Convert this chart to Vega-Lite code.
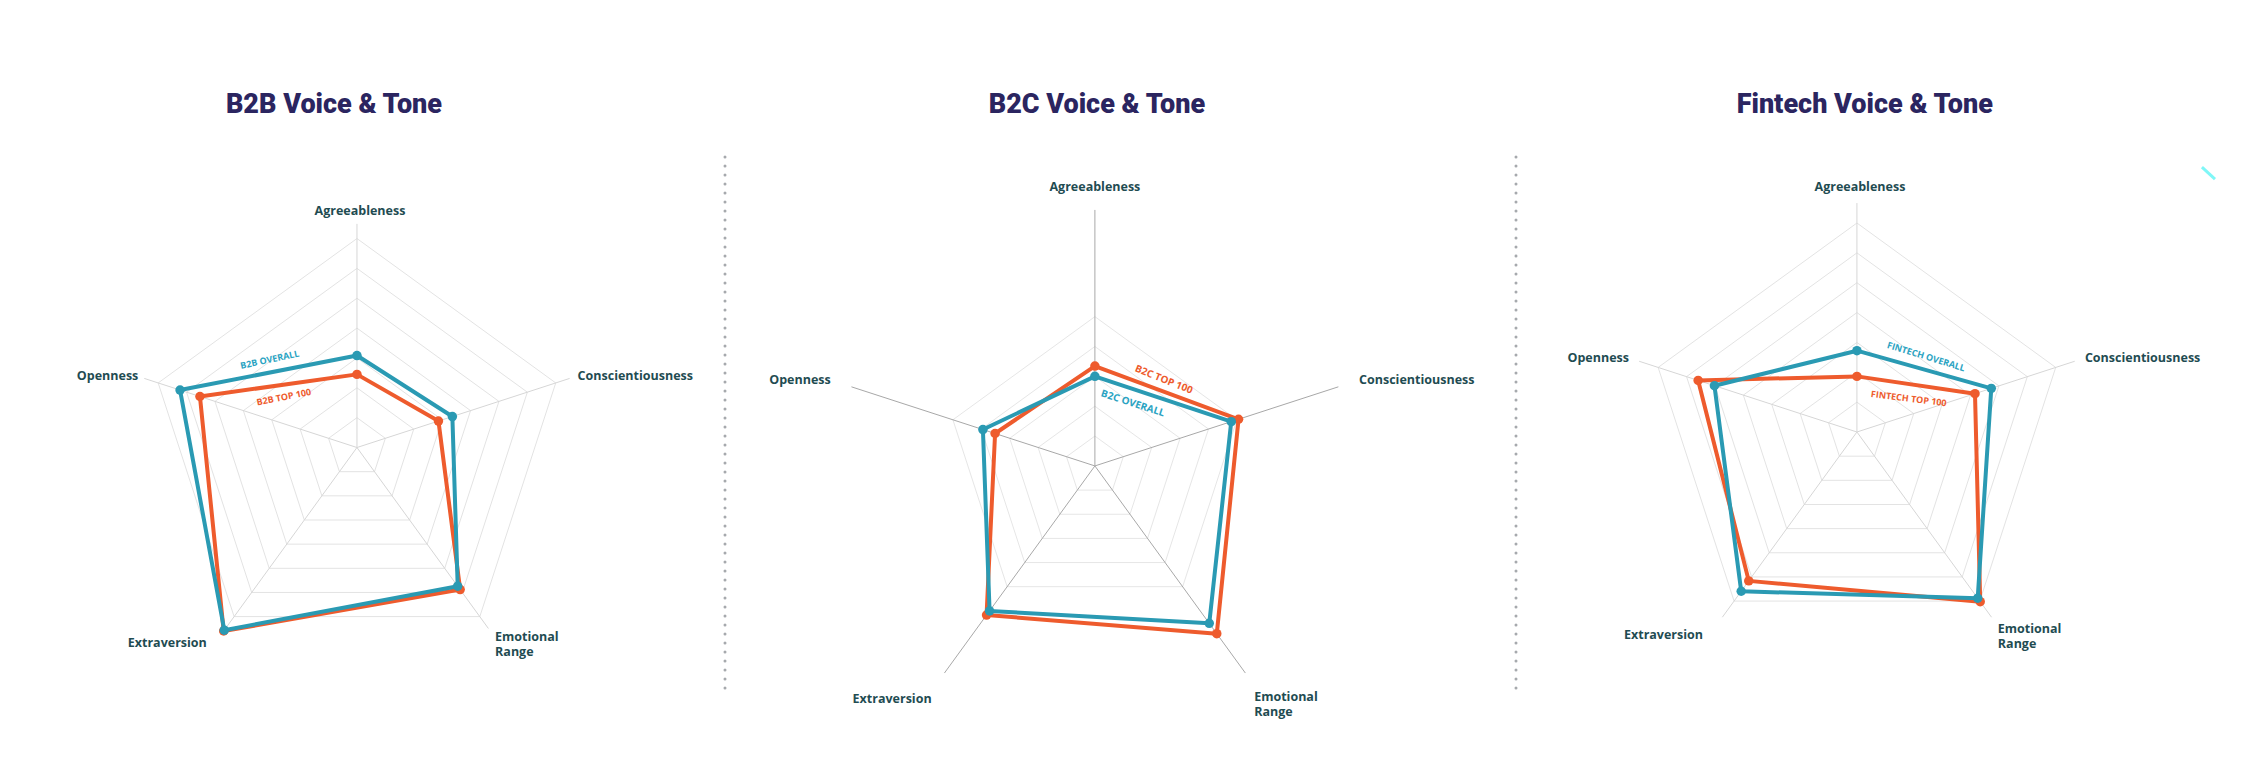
{
  "$schema": "https://vega.github.io/schema/vega-lite/v6.json",
  "padding": 0,
  "spacing": 0,
  "bounds": "flush",
  "background": "white",
  "config": {"view": {"stroke": null}},
  "datasets": {
    "vals": [
      {"panel": "B2B", "series": "Top 100", "trait": "Agreeableness", "v": 0.35},
      {"panel": "B2B", "series": "Top 100", "trait": "Conscientiousness", "v": 0.41},
      {"panel": "B2B", "series": "Top 100", "trait": "Emotional Range", "v": 0.84},
      {"panel": "B2B", "series": "Top 100", "trait": "Extraversion", "v": 1.085},
      {"panel": "B2B", "series": "Top 100", "trait": "Openness", "v": 0.79},
      {"panel": "B2B", "series": "Overall", "trait": "Agreeableness", "v": 0.44},
      {"panel": "B2B", "series": "Overall", "trait": "Conscientiousness", "v": 0.48},
      {"panel": "B2B", "series": "Overall", "trait": "Emotional Range", "v": 0.82},
      {"panel": "B2B", "series": "Overall", "trait": "Extraversion", "v": 1.08},
      {"panel": "B2B", "series": "Overall", "trait": "Openness", "v": 0.89},
      {"panel": "B2C", "series": "Top 100", "trait": "Agreeableness", "v": 0.39},
      {"panel": "B2C", "series": "Top 100", "trait": "Conscientiousness", "v": 0.59},
      {"panel": "B2C", "series": "Top 100", "trait": "Emotional Range", "v": 0.81},
      {"panel": "B2C", "series": "Top 100", "trait": "Extraversion", "v": 0.72},
      {"panel": "B2C", "series": "Top 100", "trait": "Openness", "v": 0.41},
      {"panel": "B2C", "series": "Overall", "trait": "Agreeableness", "v": 0.35},
      {"panel": "B2C", "series": "Overall", "trait": "Conscientiousness", "v": 0.56},
      {"panel": "B2C", "series": "Overall", "trait": "Emotional Range", "v": 0.76},
      {"panel": "B2C", "series": "Overall", "trait": "Extraversion", "v": 0.70},
      {"panel": "B2C", "series": "Overall", "trait": "Openness", "v": 0.46},
      {"panel": "Fintech", "series": "Top 100", "trait": "Agreeableness", "v": 0.26},
      {"panel": "Fintech", "series": "Top 100", "trait": "Conscientiousness", "v": 0.58},
      {"panel": "Fintech", "series": "Top 100", "trait": "Emotional Range", "v": 0.98},
      {"panel": "Fintech", "series": "Top 100", "trait": "Extraversion", "v": 0.86},
      {"panel": "Fintech", "series": "Top 100", "trait": "Openness", "v": 0.78},
      {"panel": "Fintech", "series": "Overall", "trait": "Agreeableness", "v": 0.38},
      {"panel": "Fintech", "series": "Overall", "trait": "Conscientiousness", "v": 0.66},
      {"panel": "Fintech", "series": "Overall", "trait": "Emotional Range", "v": 0.96},
      {"panel": "Fintech", "series": "Overall", "trait": "Extraversion", "v": 0.92},
      {"panel": "Fintech", "series": "Overall", "trait": "Openness", "v": 0.70}
    ],
    "traits": [
      {"trait": "Agreeableness"},
      {"trait": "Conscientiousness"},
      {"trait": "Emotional Range"},
      {"trait": "Extraversion"},
      {"trait": "Openness"}
    ],
    "rings": [
      {"panel": "B2B", "level": 1}, {"panel": "B2B", "level": 2}, {"panel": "B2B", "level": 3},
      {"panel": "B2B", "level": 4}, {"panel": "B2B", "level": 5}, {"panel": "B2B", "level": 6},
      {"panel": "B2B", "level": 7},
      {"panel": "B2C", "level": 1}, {"panel": "B2C", "level": 2}, {"panel": "B2C", "level": 3},
      {"panel": "B2C", "level": 4}, {"panel": "B2C", "level": 5},
      {"panel": "Fintech", "level": 1}, {"panel": "Fintech", "level": 2}, {"panel": "Fintech", "level": 3},
      {"panel": "Fintech", "level": 4}, {"panel": "Fintech", "level": 5}, {"panel": "Fintech", "level": 6},
      {"panel": "Fintech", "level": 7}
    ],
    "titles": [
      {"panel": "B2B", "title": "B2B Voice & Tone"},
      {"panel": "B2C", "title": "B2C Voice & Tone"},
      {"panel": "Fintech", "title": "Fintech Voice & Tone"}
    ],
    "tags": [
      {"panel": "B2B", "series": "Overall", "tag": "B2B OVERALL"},
      {"panel": "B2B", "series": "Top 100", "tag": "B2B TOP 100"},
      {"panel": "B2C", "series": "Overall", "tag": "B2C OVERALL"},
      {"panel": "B2C", "series": "Top 100", "tag": "B2C TOP 100"},
      {"panel": "Fintech", "series": "Overall", "tag": "FINTECH OVERALL"},
      {"panel": "Fintech", "series": "Top 100", "tag": "FINTECH TOP 100"}
    ]
  },
  "hconcat": [
    {
      "width": 725,
      "height": 778,
      "layer": [
        {
          "data": {"name": "rings"},
          "transform": [{"filter": "datum.panel === 'B2B'"}],
          "mark": {"type": "point", "shape": "M0,-1L0.9511,-0.309L0.5878,0.809L-0.5878,0.809L-0.9511,-0.309Z", "filled": false, "stroke": "#e3e3e3", "strokeWidth": 1, "opacity": 1},
          "encoding": {
            "x": {"datum": 0, "type": "quantitative", "scale": {"domain": [-1.708, 1.761], "nice": false, "zero": false}, "axis": null},
            "y": {"datum": 0, "type": "quantitative", "scale": {"domain": [-1.581, 2.141], "nice": false, "zero": false}, "axis": null},
            "size": {"field": "level", "type": "quantitative", "scale": {"type": "pow", "exponent": 2, "domain": [0, 7], "range": [0, 174724]}, "legend": null}
          }
        },
        {
          "data": {"name": "traits"},
          "transform": [
            {"calculate": "indexof(['Agreeableness','Conscientiousness','Emotional Range','Extraversion','Openness'], datum.trait)", "as": "i"},
            {"calculate": "PI/2 - datum.i*2*PI/5", "as": "t"},
            {"calculate": "1.07*cos(datum.t)", "as": "sx"},
            {"calculate": "1.07*sin(datum.t)", "as": "sy"}
          ],
          "mark": {"type": "rule", "stroke": "#d6d6d6", "strokeWidth": 1},
          "encoding": {
            "x": {"field": "sx", "type": "quantitative"},
            "y": {"field": "sy", "type": "quantitative"},
            "x2": {"datum": 0},
            "y2": {"datum": 0}
          }
        },
        {
          "data": {"name": "vals"},
          "transform": [
            {"filter": "datum.panel === 'B2B' && datum.series === 'Top 100'"},
            {"calculate": "indexof(['Agreeableness','Conscientiousness','Emotional Range','Extraversion','Openness'], datum.trait)", "as": "i"},
            {"calculate": "PI/2 - datum.i*2*PI/5", "as": "t"},
            {"calculate": "datum.v*cos(datum.t)", "as": "x"},
            {"calculate": "datum.v*sin(datum.t)", "as": "y"}
          ],
          "mark": {"type": "line", "interpolate": "linear-closed", "stroke": "#ee5b2d", "strokeWidth": 4, "strokeJoin": "round"},
          "encoding": {
            "x": {"field": "x", "type": "quantitative"},
            "y": {"field": "y", "type": "quantitative"},
            "order": {"field": "i", "type": "quantitative"}
          }
        },
        {
          "data": {"name": "vals"},
          "transform": [
            {"filter": "datum.panel === 'B2B' && datum.series === 'Overall'"},
            {"calculate": "indexof(['Agreeableness','Conscientiousness','Emotional Range','Extraversion','Openness'], datum.trait)", "as": "i"},
            {"calculate": "PI/2 - datum.i*2*PI/5", "as": "t"},
            {"calculate": "datum.v*cos(datum.t)", "as": "x"},
            {"calculate": "datum.v*sin(datum.t)", "as": "y"}
          ],
          "mark": {"type": "line", "interpolate": "linear-closed", "stroke": "#2a9ab3", "strokeWidth": 4, "strokeJoin": "round"},
          "encoding": {
            "x": {"field": "x", "type": "quantitative"},
            "y": {"field": "y", "type": "quantitative"},
            "order": {"field": "i", "type": "quantitative"}
          }
        },
        {
          "data": {"name": "vals"},
          "transform": [
            {"filter": "datum.panel === 'B2B'"},
            {"calculate": "indexof(['Agreeableness','Conscientiousness','Emotional Range','Extraversion','Openness'], datum.trait)", "as": "i"},
            {"calculate": "PI/2 - datum.i*2*PI/5", "as": "t"},
            {"calculate": "datum.v*cos(datum.t)", "as": "x"},
            {"calculate": "datum.v*sin(datum.t)", "as": "y"}
          ],
          "mark": {"type": "circle", "size": 90, "opacity": 1},
          "encoding": {
            "x": {"field": "x", "type": "quantitative"},
            "y": {"field": "y", "type": "quantitative"},
            "color": {"field": "series", "type": "nominal", "scale": {"domain": ["Top 100", "Overall"], "range": ["#ee5b2d", "#2a9ab3"]}, "legend": null}
          }
        },
        {
          "data": {"name": "tags"},
          "transform": [{"filter": "datum.panel === 'B2B' && datum.series === 'Overall'"}],
          "mark": {"type": "text", "font": "Open Sans", "fontWeight": 700, "fontSize": 9, "color": "#2aa3c2", "angle": -12, "align": "center", "baseline": "middle"},
          "encoding": {"x": {"datum": -0.417, "type": "quantitative"}, "y": {"datum": 0.42, "type": "quantitative"}, "text": {"field": "tag", "type": "nominal"}}
        },
        {
          "data": {"name": "tags"},
          "transform": [{"filter": "datum.panel === 'B2B' && datum.series === 'Top 100'"}],
          "mark": {"type": "text", "font": "Open Sans", "fontWeight": 700, "fontSize": 9, "color": "#ee5b2d", "angle": -11, "align": "center", "baseline": "middle"},
          "encoding": {"x": {"datum": -0.35, "type": "quantitative"}, "y": {"datum": 0.241, "type": "quantitative"}, "text": {"field": "tag", "type": "nominal"}}
        },
        {
          "data": {"name": "traits"},
          "transform": [
            {"calculate": "indexof(['Agreeableness','Conscientiousness','Emotional Range','Extraversion','Openness'], datum.trait)", "as": "i"},
            {"calculate": "PI/2 - datum.i*2*PI/5", "as": "t"},
            {"calculate": "1.10*cos(datum.t)", "as": "lx"},
            {"calculate": "1.10*sin(datum.t)", "as": "ly"},
            {"filter": "datum.trait === 'Agreeableness'"}
          ],
          "mark": {"type": "text", "font": "Open Sans", "fontWeight": 700, "fontSize": 12.5, "color": "#1f4c52", "align": "center", "baseline": "bottom", "dx": 3},
          "encoding": {"x": {"field": "lx", "type": "quantitative"}, "y": {"field": "ly", "type": "quantitative"}, "text": {"field": "trait", "type": "nominal"}}
        },
        {
          "data": {"name": "traits"},
          "transform": [
            {"calculate": "indexof(['Agreeableness','Conscientiousness','Emotional Range','Extraversion','Openness'], datum.trait)", "as": "i"},
            {"calculate": "PI/2 - datum.i*2*PI/5", "as": "t"},
            {"calculate": "1.10*cos(datum.t)", "as": "lx"},
            {"calculate": "1.10*sin(datum.t)", "as": "ly"},
            {"filter": "datum.trait === 'Conscientiousness'"}
          ],
          "mark": {"type": "text", "font": "Open Sans", "fontWeight": 700, "fontSize": 12.5, "color": "#1f4c52", "align": "left", "baseline": "middle", "dx": 2},
          "encoding": {"x": {"field": "lx", "type": "quantitative"}, "y": {"field": "ly", "type": "quantitative"}, "text": {"field": "trait", "type": "nominal"}}
        },
        {
          "data": {"name": "traits"},
          "transform": [
            {"calculate": "indexof(['Agreeableness','Conscientiousness','Emotional Range','Extraversion','Openness'], datum.trait)", "as": "i"},
            {"calculate": "PI/2 - datum.i*2*PI/5", "as": "t"},
            {"calculate": "1.10*cos(datum.t)", "as": "lx"},
            {"calculate": "1.10*sin(datum.t)", "as": "ly"},
            {"filter": "datum.trait === 'Openness'"}
          ],
          "mark": {"type": "text", "font": "Open Sans", "fontWeight": 700, "fontSize": 12.5, "color": "#1f4c52", "align": "right", "baseline": "middle"},
          "encoding": {"x": {"field": "lx", "type": "quantitative"}, "y": {"field": "ly", "type": "quantitative"}, "text": {"field": "trait", "type": "nominal"}}
        },
        {
          "data": {"name": "traits"},
          "transform": [
            {"calculate": "indexof(['Agreeableness','Conscientiousness','Emotional Range','Extraversion','Openness'], datum.trait)", "as": "i"},
            {"calculate": "PI/2 - datum.i*2*PI/5", "as": "t"},
            {"calculate": "1.10*cos(datum.t)", "as": "lx"},
            {"calculate": "1.10*sin(datum.t)", "as": "ly"},
            {"filter": "datum.trait === 'Extraversion'"}
          ],
          "mark": {"type": "text", "font": "Open Sans", "fontWeight": 700, "fontSize": 12.5, "color": "#1f4c52", "align": "right", "baseline": "top", "dx": -15, "dy": 3},
          "encoding": {"x": {"field": "lx", "type": "quantitative"}, "y": {"field": "ly", "type": "quantitative"}, "text": {"field": "trait", "type": "nominal"}}
        },
        {
          "data": {"name": "traits"},
          "transform": [
            {"calculate": "indexof(['Agreeableness','Conscientiousness','Emotional Range','Extraversion','Openness'], datum.trait)", "as": "i"},
            {"calculate": "PI/2 - datum.i*2*PI/5", "as": "t"},
            {"calculate": "1.10*cos(datum.t)", "as": "lx"},
            {"calculate": "1.10*sin(datum.t)", "as": "ly"},
            {"filter": "datum.trait === 'Emotional Range'"}
          ],
          "mark": {"type": "text", "font": "Open Sans", "fontWeight": 700, "fontSize": 12.5, "color": "#1f4c52", "align": "left", "baseline": "top", "dx": 3, "dy": -3, "lineBreak": " ", "lineHeight": 15},
          "encoding": {"x": {"field": "lx", "type": "quantitative"}, "y": {"field": "ly", "type": "quantitative"}, "text": {"field": "trait", "type": "nominal"}}
        },
        {
          "data": {"name": "titles"},
          "transform": [{"filter": "datum.panel === 'B2B'"}],
          "mark": {"type": "text", "font": "Roboto", "fontWeight": 900, "fontSize": 27, "color": "#2b2560", "align": "center", "baseline": "middle"},
          "encoding": {"x": {"datum": -0.11, "type": "quantitative"}, "y": {"datum": 1.639, "type": "quantitative"}, "text": {"field": "title", "type": "nominal"}}
        }
      ]
    },
    {
      "width": 791,
      "height": 778,
      "layer": [
        {
          "data": {"name": "rings"},
          "transform": [{"filter": "datum.panel === 'B2C'"}],
          "mark": {"type": "point", "shape": "M0,-1L0.9511,-0.309L0.5878,0.809L-0.5878,0.809L-0.9511,-0.309Z", "filled": false, "stroke": "#e6e6e6", "strokeWidth": 1, "opacity": 1},
          "encoding": {
            "x": {"datum": 0, "type": "quantitative", "scale": {"domain": [-1.445, 1.645], "nice": false, "zero": false}, "axis": null},
            "y": {"datum": 0, "type": "quantitative", "scale": {"domain": [-1.219, 1.820], "nice": false, "zero": false}, "axis": null},
            "size": {"field": "level", "type": "quantitative", "scale": {"type": "pow", "exponent": 2, "domain": [0, 5], "range": [0, 262144]}, "legend": null}
          }
        },
        {
          "data": {"name": "traits"},
          "transform": [
            {"calculate": "indexof(['Agreeableness','Conscientiousness','Emotional Range','Extraversion','Openness'], datum.trait)", "as": "i"},
            {"calculate": "PI/2 - datum.i*2*PI/5", "as": "t"},
            {"calculate": "1.0*cos(datum.t)", "as": "sx"},
            {"calculate": "1.0*sin(datum.t)", "as": "sy"}
          ],
          "mark": {"type": "rule", "stroke": "#a8a8a8", "strokeWidth": 1},
          "encoding": {
            "x": {"field": "sx", "type": "quantitative"},
            "y": {"field": "sy", "type": "quantitative"},
            "x2": {"datum": 0},
            "y2": {"datum": 0}
          }
        },
        {
          "data": {"name": "titles"},
          "transform": [{"filter": "datum.panel === 'B2C'"}],
          "mark": {"type": "rule", "stroke": "#a6a9ad", "strokeWidth": 3, "strokeDash": [0, 9], "strokeCap": "round"},
          "encoding": {"x": {"datum": -1.445, "type": "quantitative"}, "y": {"datum": 1.207, "type": "quantitative"}, "y2": {"datum": -0.902}}
        },
        {
          "data": {"name": "vals"},
          "transform": [
            {"filter": "datum.panel === 'B2C' && datum.series === 'Top 100'"},
            {"calculate": "indexof(['Agreeableness','Conscientiousness','Emotional Range','Extraversion','Openness'], datum.trait)", "as": "i"},
            {"calculate": "PI/2 - datum.i*2*PI/5", "as": "t"},
            {"calculate": "datum.v*cos(datum.t)", "as": "x"},
            {"calculate": "datum.v*sin(datum.t)", "as": "y"}
          ],
          "mark": {"type": "line", "interpolate": "linear-closed", "stroke": "#ee5b2d", "strokeWidth": 4, "strokeJoin": "round"},
          "encoding": {
            "x": {"field": "x", "type": "quantitative"},
            "y": {"field": "y", "type": "quantitative"},
            "order": {"field": "i", "type": "quantitative"}
          }
        },
        {
          "data": {"name": "vals"},
          "transform": [
            {"filter": "datum.panel === 'B2C' && datum.series === 'Overall'"},
            {"calculate": "indexof(['Agreeableness','Conscientiousness','Emotional Range','Extraversion','Openness'], datum.trait)", "as": "i"},
            {"calculate": "PI/2 - datum.i*2*PI/5", "as": "t"},
            {"calculate": "datum.v*cos(datum.t)", "as": "x"},
            {"calculate": "datum.v*sin(datum.t)", "as": "y"}
          ],
          "mark": {"type": "line", "interpolate": "linear-closed", "stroke": "#2a9ab3", "strokeWidth": 4, "strokeJoin": "round"},
          "encoding": {
            "x": {"field": "x", "type": "quantitative"},
            "y": {"field": "y", "type": "quantitative"},
            "order": {"field": "i", "type": "quantitative"}
          }
        },
        {
          "data": {"name": "vals"},
          "transform": [
            {"filter": "datum.panel === 'B2C'"},
            {"calculate": "indexof(['Agreeableness','Conscientiousness','Emotional Range','Extraversion','Openness'], datum.trait)", "as": "i"},
            {"calculate": "PI/2 - datum.i*2*PI/5", "as": "t"},
            {"calculate": "datum.v*cos(datum.t)", "as": "x"},
            {"calculate": "datum.v*sin(datum.t)", "as": "y"}
          ],
          "mark": {"type": "circle", "size": 90, "opacity": 1},
          "encoding": {
            "x": {"field": "x", "type": "quantitative"},
            "y": {"field": "y", "type": "quantitative"},
            "color": {"field": "series", "type": "nominal", "scale": {"domain": ["Top 100", "Overall"], "range": ["#ee5b2d", "#2a9ab3"]}, "legend": null}
          }
        },
        {
          "data": {"name": "tags"},
          "transform": [{"filter": "datum.panel === 'B2C' && datum.series === 'Overall'"}],
          "mark": {"type": "text", "font": "Open Sans", "fontWeight": 700, "fontSize": 10, "color": "#2aa3c2", "angle": 18, "align": "center", "baseline": "middle"},
          "encoding": {"x": {"datum": 0.148, "type": "quantitative"}, "y": {"datum": 0.244, "type": "quantitative"}, "text": {"field": "tag", "type": "nominal"}}
        },
        {
          "data": {"name": "tags"},
          "transform": [{"filter": "datum.panel === 'B2C' && datum.series === 'Top 100'"}],
          "mark": {"type": "text", "font": "Open Sans", "fontWeight": 700, "fontSize": 10, "color": "#ee5b2d", "angle": 22, "align": "center", "baseline": "middle"},
          "encoding": {"x": {"datum": 0.269, "type": "quantitative"}, "y": {"datum": 0.337, "type": "quantitative"}, "text": {"field": "tag", "type": "nominal"}}
        },
        {
          "data": {"name": "traits"},
          "transform": [
            {"calculate": "indexof(['Agreeableness','Conscientiousness','Emotional Range','Extraversion','Openness'], datum.trait)", "as": "i"},
            {"calculate": "PI/2 - datum.i*2*PI/5", "as": "t"},
            {"calculate": "1.085*cos(datum.t)", "as": "lx"},
            {"calculate": "1.085*sin(datum.t)", "as": "ly"},
            {"filter": "datum.trait === 'Agreeableness'"}
          ],
          "mark": {"type": "text", "font": "Open Sans", "fontWeight": 700, "fontSize": 12.5, "color": "#1f4c52", "align": "center", "baseline": "bottom", "dy": 6},
          "encoding": {"x": {"field": "lx", "type": "quantitative"}, "y": {"field": "ly", "type": "quantitative"}, "text": {"field": "trait", "type": "nominal"}}
        },
        {
          "data": {"name": "traits"},
          "transform": [
            {"calculate": "indexof(['Agreeableness','Conscientiousness','Emotional Range','Extraversion','Openness'], datum.trait)", "as": "i"},
            {"calculate": "PI/2 - datum.i*2*PI/5", "as": "t"},
            {"calculate": "1.085*cos(datum.t)", "as": "lx"},
            {"calculate": "1.085*sin(datum.t)", "as": "ly"},
            {"filter": "datum.trait === 'Conscientiousness'"}
          ],
          "mark": {"type": "text", "font": "Open Sans", "fontWeight": 700, "fontSize": 12.5, "color": "#1f4c52", "align": "left", "baseline": "middle"},
          "encoding": {"x": {"field": "lx", "type": "quantitative"}, "y": {"field": "ly", "type": "quantitative"}, "text": {"field": "trait", "type": "nominal"}}
        },
        {
          "data": {"name": "traits"},
          "transform": [
            {"calculate": "indexof(['Agreeableness','Conscientiousness','Emotional Range','Extraversion','Openness'], datum.trait)", "as": "i"},
            {"calculate": "PI/2 - datum.i*2*PI/5", "as": "t"},
            {"calculate": "1.085*cos(datum.t)", "as": "lx"},
            {"calculate": "1.085*sin(datum.t)", "as": "ly"},
            {"filter": "datum.trait === 'Openness'"}
          ],
          "mark": {"type": "text", "font": "Open Sans", "fontWeight": 700, "fontSize": 12.5, "color": "#1f4c52", "align": "right", "baseline": "middle"},
          "encoding": {"x": {"field": "lx", "type": "quantitative"}, "y": {"field": "ly", "type": "quantitative"}, "text": {"field": "trait", "type": "nominal"}}
        },
        {
          "data": {"name": "traits"},
          "transform": [
            {"calculate": "indexof(['Agreeableness','Conscientiousness','Emotional Range','Extraversion','Openness'], datum.trait)", "as": "i"},
            {"calculate": "PI/2 - datum.i*2*PI/5", "as": "t"},
            {"calculate": "1.085*cos(datum.t)", "as": "lx"},
            {"calculate": "1.085*sin(datum.t)", "as": "ly"},
            {"filter": "datum.trait === 'Extraversion'"}
          ],
          "mark": {"type": "text", "font": "Open Sans", "fontWeight": 700, "fontSize": 12.5, "color": "#1f4c52", "align": "right", "baseline": "top", "dx": 0, "dy": 2},
          "encoding": {"x": {"field": "lx", "type": "quantitative"}, "y": {"field": "ly", "type": "quantitative"}, "text": {"field": "trait", "type": "nominal"}}
        },
        {
          "data": {"name": "traits"},
          "transform": [
            {"calculate": "indexof(['Agreeableness','Conscientiousness','Emotional Range','Extraversion','Openness'], datum.trait)", "as": "i"},
            {"calculate": "PI/2 - datum.i*2*PI/5", "as": "t"},
            {"calculate": "1.085*cos(datum.t)", "as": "lx"},
            {"calculate": "1.085*sin(datum.t)", "as": "ly"},
            {"filter": "datum.trait === 'Emotional Range'"}
          ],
          "mark": {"type": "text", "font": "Open Sans", "fontWeight": 700, "fontSize": 12.5, "color": "#1f4c52", "align": "left", "baseline": "top", "dx": -4, "dy": 0, "lineBreak": " ", "lineHeight": 15},
          "encoding": {"x": {"field": "lx", "type": "quantitative"}, "y": {"field": "ly", "type": "quantitative"}, "text": {"field": "trait", "type": "nominal"}}
        },
        {
          "data": {"name": "titles"},
          "transform": [{"filter": "datum.panel === 'B2C'"}],
          "mark": {"type": "text", "font": "Roboto", "fontWeight": 900, "fontSize": 27, "color": "#2b2560", "align": "center", "baseline": "middle"},
          "encoding": {"x": {"datum": 0.008, "type": "quantitative"}, "y": {"datum": 1.41, "type": "quantitative"}, "text": {"field": "title", "type": "nominal"}}
        }
      ]
    },
    {
      "width": 748,
      "height": 778,
      "layer": [
        {
          "data": {"name": "rings"},
          "transform": [{"filter": "datum.panel === 'Fintech'"}],
          "mark": {"type": "point", "shape": "M0,-1L0.9511,-0.309L0.5878,0.809L-0.5878,0.809L-0.9511,-0.309Z", "filled": false, "stroke": "#e3e3e3", "strokeWidth": 1, "opacity": 1},
          "encoding": {
            "x": {"datum": 0, "type": "quantitative", "scale": {"domain": [-1.593, 1.902], "nice": false, "zero": false}, "axis": null},
            "y": {"datum": 0, "type": "quantitative", "scale": {"domain": [-1.617, 2.019], "nice": false, "zero": false}, "axis": null},
            "size": {"field": "level", "type": "quantitative", "scale": {"type": "pow", "exponent": 2, "domain": [0, 7], "range": [0, 183184]}, "legend": null}
          }
        },
        {
          "data": {"name": "traits"},
          "transform": [
            {"calculate": "indexof(['Agreeableness','Conscientiousness','Emotional Range','Extraversion','Openness'], datum.trait)", "as": "i"},
            {"calculate": "PI/2 - datum.i*2*PI/5", "as": "t"},
            {"calculate": "1.07*cos(datum.t)", "as": "sx"},
            {"calculate": "1.07*sin(datum.t)", "as": "sy"}
          ],
          "mark": {"type": "rule", "stroke": "#d6d6d6", "strokeWidth": 1},
          "encoding": {
            "x": {"field": "sx", "type": "quantitative"},
            "y": {"field": "sy", "type": "quantitative"},
            "x2": {"datum": 0},
            "y2": {"datum": 0}
          }
        },
        {
          "data": {"name": "titles"},
          "transform": [{"filter": "datum.panel === 'Fintech'"}],
          "mark": {"type": "rule", "stroke": "#a6a9ad", "strokeWidth": 3, "strokeDash": [0, 9], "strokeCap": "round"},
          "encoding": {"x": {"datum": -1.593, "type": "quantitative"}, "y": {"datum": 1.285, "type": "quantitative"}, "y2": {"datum": -1.238}}
        },
        {
          "data": {"name": "titles"},
          "transform": [{"filter": "datum.panel === 'Fintech'"}],
          "mark": {"type": "rule", "stroke": "#7ff7f7", "strokeWidth": 3},
          "encoding": {"x": {"datum": 1.612, "type": "quantitative"}, "y": {"datum": 1.238, "type": "quantitative"}, "x2": {"datum": 1.673}, "y2": {"datum": 1.182}}
        },
        {
          "data": {"name": "vals"},
          "transform": [
            {"filter": "datum.panel === 'Fintech' && datum.series === 'Top 100'"},
            {"calculate": "indexof(['Agreeableness','Conscientiousness','Emotional Range','Extraversion','Openness'], datum.trait)", "as": "i"},
            {"calculate": "PI/2 - datum.i*2*PI/5", "as": "t"},
            {"calculate": "datum.v*cos(datum.t)", "as": "x"},
            {"calculate": "datum.v*sin(datum.t)", "as": "y"}
          ],
          "mark": {"type": "line", "interpolate": "linear-closed", "stroke": "#ee5b2d", "strokeWidth": 4, "strokeJoin": "round"},
          "encoding": {
            "x": {"field": "x", "type": "quantitative"},
            "y": {"field": "y", "type": "quantitative"},
            "order": {"field": "i", "type": "quantitative"}
          }
        },
        {
          "data": {"name": "vals"},
          "transform": [
            {"filter": "datum.panel === 'Fintech' && datum.series === 'Overall'"},
            {"calculate": "indexof(['Agreeableness','Conscientiousness','Emotional Range','Extraversion','Openness'], datum.trait)", "as": "i"},
            {"calculate": "PI/2 - datum.i*2*PI/5", "as": "t"},
            {"calculate": "datum.v*cos(datum.t)", "as": "x"},
            {"calculate": "datum.v*sin(datum.t)", "as": "y"}
          ],
          "mark": {"type": "line", "interpolate": "linear-closed", "stroke": "#2a9ab3", "strokeWidth": 4, "strokeJoin": "round"},
          "encoding": {
            "x": {"field": "x", "type": "quantitative"},
            "y": {"field": "y", "type": "quantitative"},
            "order": {"field": "i", "type": "quantitative"}
          }
        },
        {
          "data": {"name": "vals"},
          "transform": [
            {"filter": "datum.panel === 'Fintech'"},
            {"calculate": "indexof(['Agreeableness','Conscientiousness','Emotional Range','Extraversion','Openness'], datum.trait)", "as": "i"},
            {"calculate": "PI/2 - datum.i*2*PI/5", "as": "t"},
            {"calculate": "datum.v*cos(datum.t)", "as": "x"},
            {"calculate": "datum.v*sin(datum.t)", "as": "y"}
          ],
          "mark": {"type": "circle", "size": 90, "opacity": 1},
          "encoding": {
            "x": {"field": "x", "type": "quantitative"},
            "y": {"field": "y", "type": "quantitative"},
            "color": {"field": "series", "type": "nominal", "scale": {"domain": ["Top 100", "Overall"], "range": ["#ee5b2d", "#2a9ab3"]}, "legend": null}
          }
        },
        {
          "data": {"name": "tags"},
          "transform": [{"filter": "datum.panel === 'Fintech' && datum.series === 'Overall'"}],
          "mark": {"type": "text", "font": "Open Sans", "fontWeight": 700, "fontSize": 9, "color": "#2aa3c2", "angle": 17, "align": "center", "baseline": "middle"},
          "encoding": {"x": {"datum": 0.323, "type": "quantitative"}, "y": {"datum": 0.352, "type": "quantitative"}, "text": {"field": "tag", "type": "nominal"}}
        },
        {
          "data": {"name": "tags"},
          "transform": [{"filter": "datum.panel === 'Fintech' && datum.series === 'Top 100'"}],
          "mark": {"type": "text", "font": "Open Sans", "fontWeight": 700, "fontSize": 9, "color": "#ee5b2d", "angle": 7, "align": "center", "baseline": "middle"},
          "encoding": {"x": {"datum": 0.242, "type": "quantitative"}, "y": {"datum": 0.156, "type": "quantitative"}, "text": {"field": "tag", "type": "nominal"}}
        },
        {
          "data": {"name": "traits"},
          "transform": [
            {"calculate": "indexof(['Agreeableness','Conscientiousness','Emotional Range','Extraversion','Openness'], datum.trait)", "as": "i"},
            {"calculate": "PI/2 - datum.i*2*PI/5", "as": "t"},
            {"calculate": "1.12*cos(datum.t)", "as": "lx"},
            {"calculate": "1.12*sin(datum.t)", "as": "ly"},
            {"filter": "datum.trait === 'Agreeableness'"}
          ],
          "mark": {"type": "text", "font": "Open Sans", "fontWeight": 700, "fontSize": 12.5, "color": "#1f4c52", "align": "center", "baseline": "bottom", "dx": 3, "dy": 2},
          "encoding": {"x": {"field": "lx", "type": "quantitative"}, "y": {"field": "ly", "type": "quantitative"}, "text": {"field": "trait", "type": "nominal"}}
        },
        {
          "data": {"name": "traits"},
          "transform": [
            {"calculate": "indexof(['Agreeableness','Conscientiousness','Emotional Range','Extraversion','Openness'], datum.trait)", "as": "i"},
            {"calculate": "PI/2 - datum.i*2*PI/5", "as": "t"},
            {"calculate": "1.12*cos(datum.t)", "as": "lx"},
            {"calculate": "1.12*sin(datum.t)", "as": "ly"},
            {"filter": "datum.trait === 'Conscientiousness'"}
          ],
          "mark": {"type": "text", "font": "Open Sans", "fontWeight": 700, "fontSize": 12.5, "color": "#1f4c52", "align": "left", "baseline": "middle"},
          "encoding": {"x": {"field": "lx", "type": "quantitative"}, "y": {"field": "ly", "type": "quantitative"}, "text": {"field": "trait", "type": "nominal"}}
        },
        {
          "data": {"name": "traits"},
          "transform": [
            {"calculate": "indexof(['Agreeableness','Conscientiousness','Emotional Range','Extraversion','Openness'], datum.trait)", "as": "i"},
            {"calculate": "PI/2 - datum.i*2*PI/5", "as": "t"},
            {"calculate": "1.12*cos(datum.t)", "as": "lx"},
            {"calculate": "1.12*sin(datum.t)", "as": "ly"},
            {"filter": "datum.trait === 'Openness'"}
          ],
          "mark": {"type": "text", "font": "Open Sans", "fontWeight": 700, "fontSize": 12.5, "color": "#1f4c52", "align": "right", "baseline": "middle"},
          "encoding": {"x": {"field": "lx", "type": "quantitative"}, "y": {"field": "ly", "type": "quantitative"}, "text": {"field": "trait", "type": "nominal"}}
        },
        {
          "data": {"name": "traits"},
          "transform": [
            {"calculate": "indexof(['Agreeableness','Conscientiousness','Emotional Range','Extraversion','Openness'], datum.trait)", "as": "i"},
            {"calculate": "PI/2 - datum.i*2*PI/5", "as": "t"},
            {"calculate": "1.12*cos(datum.t)", "as": "lx"},
            {"calculate": "1.12*sin(datum.t)", "as": "ly"},
            {"filter": "datum.trait === 'Extraversion'"}
          ],
          "mark": {"type": "text", "font": "Open Sans", "fontWeight": 700, "fontSize": 12.5, "color": "#1f4c52", "align": "right", "baseline": "top", "dx": -13, "dy": 3},
          "encoding": {"x": {"field": "lx", "type": "quantitative"}, "y": {"field": "ly", "type": "quantitative"}, "text": {"field": "trait", "type": "nominal"}}
        },
        {
          "data": {"name": "traits"},
          "transform": [
            {"calculate": "indexof(['Agreeableness','Conscientiousness','Emotional Range','Extraversion','Openness'], datum.trait)", "as": "i"},
            {"calculate": "PI/2 - datum.i*2*PI/5", "as": "t"},
            {"calculate": "1.12*cos(datum.t)", "as": "lx"},
            {"calculate": "1.12*sin(datum.t)", "as": "ly"},
            {"filter": "datum.trait === 'Emotional Range'"}
          ],
          "mark": {"type": "text", "font": "Open Sans", "fontWeight": 700, "fontSize": 12.5, "color": "#1f4c52", "align": "left", "baseline": "top", "dx": 0, "dy": -3, "lineBreak": " ", "lineHeight": 15},
          "encoding": {"x": {"field": "lx", "type": "quantitative"}, "y": {"field": "ly", "type": "quantitative"}, "text": {"field": "trait", "type": "nominal"}}
        },
        {
          "data": {"name": "titles"},
          "transform": [{"filter": "datum.panel === 'Fintech'"}],
          "mark": {"type": "text", "font": "Roboto", "fontWeight": 900, "fontSize": 27, "color": "#2b2560", "align": "center", "baseline": "middle"},
          "encoding": {"x": {"datum": 0.037, "type": "quantitative"}, "y": {"datum": 1.528, "type": "quantitative"}, "text": {"field": "title", "type": "nominal"}}
        }
      ]
    }
  ]
}
